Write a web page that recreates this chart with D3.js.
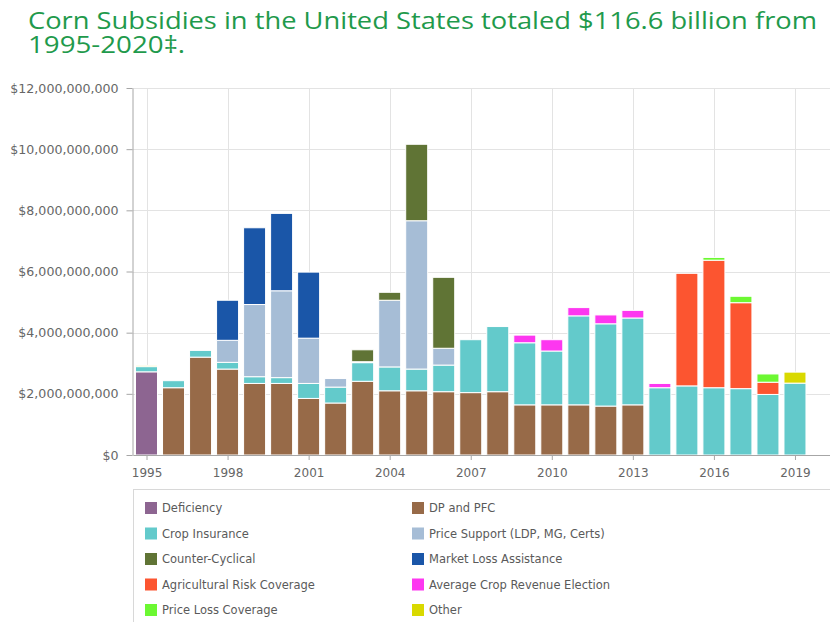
<!DOCTYPE html>
<html>
<head>
<meta charset="utf-8">
<script src="https://cdn.jsdelivr.net/npm/d3@7/dist/d3.min.js"></script>
<style>
  body { margin: 0; background: #fff; }
  svg { display: block; font-family: "DejaVu Sans", Verdana, sans-serif; }
</style>
</head>
<body>
<svg id="chart" width="830" height="622"></svg>
<script>
// Corn subsidy payments by program, 1995-2019, in billions of US dollars
const years = [1995, 1996, 1997, 1998, 1999, 2000, 2001, 2002, 2003, 2004, 2005, 2006, 2007,
               2008, 2009, 2010, 2011, 2012, 2013, 2014, 2015, 2016, 2017, 2018, 2019];

const deficiency        = [2.72, 0, 0, 0, 0, 0, 0, 0, 0, 0, 0, 0, 0, 0, 0, 0, 0, 0, 0, 0, 0, 0, 0, 0, 0];
const dpAndPfc          = [0, 2.20, 3.20, 2.81, 2.34, 2.34, 1.85, 1.70, 2.41, 2.10, 2.10, 2.07, 2.04,
                           2.07, 1.64, 1.64, 1.64, 1.60, 1.64, 0, 0, 0, 0, 0, 0];
const cropInsurance     = [0.17, 0.23, 0.22, 0.22, 0.22, 0.19, 0.49, 0.52, 0.61, 0.78, 0.71, 0.87, 1.73,
                           2.13, 2.03, 1.76, 2.91, 2.69, 2.84, 2.20, 2.26, 2.20, 2.17, 1.98, 2.35];
const priceSupport      = [0, 0, 0, 0.72, 2.36, 2.84, 1.48, 0.28, 0.03, 2.18, 4.85, 0.55, 0,
                           0, 0, 0, 0, 0, 0, 0, 0, 0, 0, 0, 0];
const counterCyclical   = [0, 0, 0, 0, 0, 0, 0, 0, 0.39, 0.26, 2.50, 2.32, 0,
                           0, 0, 0, 0, 0, 0, 0, 0, 0, 0, 0, 0];
const marketLoss        = [0, 0, 0, 1.31, 2.51, 2.53, 2.16, 0, 0, 0, 0, 0, 0,
                           0, 0, 0, 0, 0, 0, 0, 0, 0, 0, 0, 0];
const agRiskCoverage    = [0, 0, 0, 0, 0, 0, 0, 0, 0, 0, 0, 0, 0,
                           0, 0, 0, 0, 0, 0, 0, 3.68, 4.17, 2.81, 0.40, 0];
const acre              = [0, 0, 0, 0, 0, 0, 0, 0, 0, 0, 0, 0, 0,
                           0, 0.25, 0.37, 0.27, 0.29, 0.25, 0.14, 0, 0, 0, 0, 0];
const priceLossCoverage = [0, 0, 0, 0, 0, 0, 0, 0, 0, 0, 0, 0, 0,
                           0, 0, 0, 0, 0, 0, 0, 0, 0.09, 0.21, 0.27, 0];
const other             = [0.04, 0, 0, 0, 0, 0, 0, 0, 0, 0, 0, 0, 0,
                           0, 0, 0, 0, 0, 0, 0, 0, 0, 0, 0, 0.36];

const seriesNames = ["Deficiency", "DP and PFC", "Crop Insurance", "Price Support (LDP, MG, Certs)",
                     "Counter-Cyclical", "Market Loss Assistance", "Agricultural Risk Coverage",
                     "Average Crop Revenue Election", "Price Loss Coverage", "Other"];
const seriesValues = [deficiency, dpAndPfc, cropInsurance, priceSupport, counterCyclical,
                      marketLoss, agRiskCoverage, acre, priceLossCoverage, other];
const seriesColors = ["#8d6591", "#976a48", "#63cacb", "#a6bdd6", "#607435",
                      "#1a56a8", "#fc5530", "#fd37f0", "#6cf832", "#d9d900"];

const yTickValues = [0, 2, 4, 6, 8, 10, 12];           // billions
const xTickValues = [1995, 1998, 2001, 2004, 2007, 2010, 2013, 2016, 2019];
const titleLines = ["Corn Subsidies in the United States totaled $116.6 billion from",
                    "1995-2020\u2021."];
const titleWidths = [789, 157];

const BILLION = 1e9;

// ---- layout ----
const svg = d3.select("#chart");
const plot = { left: 132.5, right: 830, top: 88, bottom: 455 };

const x = d3.scaleLinear().domain([1994.5, 2020.5]).range([133, 835.5]);
const y = d3.scaleLinear().domain([0, 12 * BILLION]).range([plot.bottom, plot.top]);
const barWidth = 22;

// ---- title ----
svg.append("g").selectAll("text")
  .data(titleLines)
  .join("text")
  .attr("x", 28)
  .attr("y", (d, i) => 29 + i * 24)
  .attr("fill", "#1f9a4c")
  .attr("textLength", (d, i) => titleWidths[i])
  .attr("lengthAdjust", "spacingAndGlyphs")
  .style("font-family", "'Open Sans', sans-serif")
  .style("font-size", "24px")
  .text(d => d);

// ---- grid ----
const grid = svg.append("g");
grid.selectAll("line.h")
  .data(yTickValues)
  .join("line")
  .attr("class", "h")
  .attr("x1", plot.left).attr("x2", plot.right)
  .attr("y1", d => Math.round(y(d * BILLION)) + 0.5)
  .attr("y2", d => Math.round(y(d * BILLION)) + 0.5)
  .attr("stroke", "#e3e3e3");
grid.selectAll("line.v")
  .data(xTickValues)
  .join("line")
  .attr("class", "v")
  .attr("x1", d => Math.round(x(d)) + 0.5).attr("x2", d => Math.round(x(d)) + 0.5)
  .attr("y1", plot.top).attr("y2", plot.bottom)
  .attr("stroke", "#e3e3e3");

// ---- stacked bars ----
const table = years.map((yr, i) => {
  const row = { year: yr };
  seriesNames.forEach((name, s) => { row[name] = seriesValues[s][i] * BILLION; });
  return row;
});
const stacked = d3.stack().keys(seriesNames)(table);

svg.append("g")
  .selectAll("g")
  .data(stacked)
  .join("g")
  .attr("fill", (d, i) => seriesColors[i])
  .selectAll("rect")
  .data(d => d.filter(p => p[1] - p[0] > 0))
  .join("rect")
  .attr("x", d => x(d.data.year) - barWidth / 2)
  .attr("width", barWidth)
  .attr("y", d => y(d[1]))
  .attr("height", d => y(d[0]) - y(d[1]))
  .attr("stroke", "#fff")
  .attr("stroke-width", 1);

// ---- axes ----
const yAxis = svg.append("g")
  .attr("transform", `translate(${plot.left},0)`)
  .call(d3.axisLeft(y)
    .tickValues(yTickValues.map(v => v * BILLION))
    .tickFormat(d3.format("$,"))
    .tickSize(6)
    .tickSizeOuter(0)
    .tickPadding(8));

const xAxis = svg.append("g")
  .attr("transform", `translate(0,${plot.bottom})`)
  .call(d3.axisBottom(x)
    .tickValues(xTickValues)
    .tickFormat(d3.format("d"))
    .tickSize(5)
    .tickSizeOuter(0)
    .tickPadding(8));

[yAxis, xAxis].forEach(ax => {
  ax.select(".domain").attr("stroke", "#a6a6a6");
  ax.selectAll(".tick line").attr("stroke", "#a6a6a6");
  ax.selectAll(".tick text")
    .attr("fill", "#666")
    .style("font-family", "'DejaVu Sans', Verdana, sans-serif");
});
yAxis.selectAll(".tick text").style("font-size", "12.6px");
xAxis.selectAll(".tick text").style("font-size", "12px");

// ---- legend ----
const legend = svg.append("g");
legend.append("rect")
  .attr("x", 133.5).attr("y", 489.5)
  .attr("width", 720).attr("height", 160)
  .attr("fill", "none")
  .attr("stroke", "#d8d8d8");

const colX = [145, 412];
const item = legend.selectAll("g.item")
  .data(seriesNames)
  .join("g")
  .attr("class", "item")
  .attr("transform", (d, i) => `translate(${colX[i % 2]},${508 + Math.floor(i / 2) * 25.5})`);
item.append("rect")
  .attr("x", 0).attr("y", -6)
  .attr("width", 12).attr("height", 12)
  .attr("fill", (d, i) => seriesColors[i]);
item.append("text")
  .attr("x", 17).attr("y", 0)
  .attr("dy", "0.35em")
  .attr("fill", "#5a5a5a")
  .style("font-size", "11.5px")
  .text(d => d);
</script>
</body>
</html>
